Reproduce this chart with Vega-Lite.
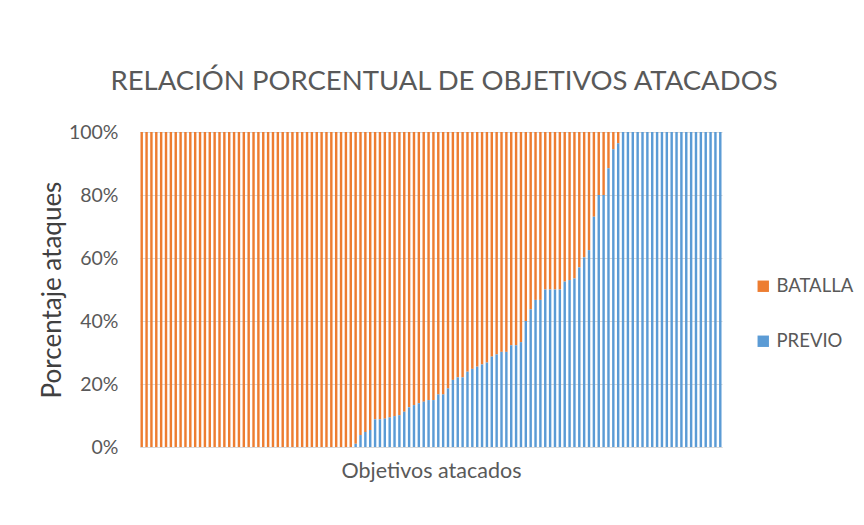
{
  "$schema": "https://vega.github.io/schema/vega-lite/v6.json",
  "autosize": {"type": "none"},
  "width": 582,
  "height": 315,
  "padding": {"left": 140, "top": 132, "right": 142, "bottom": 78},
  "background": "white",
  "title": {
    "text": "RELACIÓN PORCENTUAL DE OBJETIVOS ATACADOS",
    "font": "Lato",
    "fontSize": 27.5,
    "fontWeight": "normal",
    "color": "#595959",
    "anchor": "middle",
    "dx": 13,
    "offset": 27
  },
  "config": {
    "view": {"stroke": null},
    "font": "Lato"
  },
  "data": {
    "values": [
      {"o":1,"PREVIO":0,"BATALLA":100},{"o":2,"PREVIO":0,"BATALLA":100},{"o":3,"PREVIO":0,"BATALLA":100},{"o":4,"PREVIO":0,"BATALLA":100},
      {"o":5,"PREVIO":0,"BATALLA":100},{"o":6,"PREVIO":0,"BATALLA":100},{"o":7,"PREVIO":0,"BATALLA":100},{"o":8,"PREVIO":0,"BATALLA":100},
      {"o":9,"PREVIO":0,"BATALLA":100},{"o":10,"PREVIO":0,"BATALLA":100},{"o":11,"PREVIO":0,"BATALLA":100},{"o":12,"PREVIO":0,"BATALLA":100},
      {"o":13,"PREVIO":0,"BATALLA":100},{"o":14,"PREVIO":0,"BATALLA":100},{"o":15,"PREVIO":0,"BATALLA":100},{"o":16,"PREVIO":0,"BATALLA":100},
      {"o":17,"PREVIO":0,"BATALLA":100},{"o":18,"PREVIO":0,"BATALLA":100},{"o":19,"PREVIO":0,"BATALLA":100},{"o":20,"PREVIO":0,"BATALLA":100},
      {"o":21,"PREVIO":0,"BATALLA":100},{"o":22,"PREVIO":0,"BATALLA":100},{"o":23,"PREVIO":0,"BATALLA":100},{"o":24,"PREVIO":0,"BATALLA":100},
      {"o":25,"PREVIO":0,"BATALLA":100},{"o":26,"PREVIO":0,"BATALLA":100},{"o":27,"PREVIO":0,"BATALLA":100},{"o":28,"PREVIO":0,"BATALLA":100},
      {"o":29,"PREVIO":0,"BATALLA":100},{"o":30,"PREVIO":0,"BATALLA":100},{"o":31,"PREVIO":0,"BATALLA":100},{"o":32,"PREVIO":0,"BATALLA":100},
      {"o":33,"PREVIO":0,"BATALLA":100},{"o":34,"PREVIO":0,"BATALLA":100},{"o":35,"PREVIO":0,"BATALLA":100},{"o":36,"PREVIO":0,"BATALLA":100},
      {"o":37,"PREVIO":0,"BATALLA":100},{"o":38,"PREVIO":0,"BATALLA":100},{"o":39,"PREVIO":0,"BATALLA":100},{"o":40,"PREVIO":0,"BATALLA":100},
      {"o":41,"PREVIO":0,"BATALLA":100},{"o":42,"PREVIO":0,"BATALLA":100},{"o":43,"PREVIO":0,"BATALLA":100},{"o":44,"PREVIO":0,"BATALLA":100},
      {"o":45,"PREVIO":1,"BATALLA":99},{"o":46,"PREVIO":3.8,"BATALLA":96.2},{"o":47,"PREVIO":4.8,"BATALLA":95.2},{"o":48,"PREVIO":5.4,"BATALLA":94.6},
      {"o":49,"PREVIO":8.8,"BATALLA":91.2},{"o":50,"PREVIO":8.8,"BATALLA":91.2},{"o":51,"PREVIO":9,"BATALLA":91},{"o":52,"PREVIO":9.4,"BATALLA":90.6},
      {"o":53,"PREVIO":9.8,"BATALLA":90.2},{"o":54,"PREVIO":10.1,"BATALLA":89.9},{"o":55,"PREVIO":11.2,"BATALLA":88.8},{"o":56,"PREVIO":12.6,"BATALLA":87.4},
      {"o":57,"PREVIO":13.3,"BATALLA":86.7},{"o":58,"PREVIO":13.9,"BATALLA":86.1},{"o":59,"PREVIO":14.4,"BATALLA":85.6},{"o":60,"PREVIO":14.9,"BATALLA":85.1},
      {"o":61,"PREVIO":14.9,"BATALLA":85.1},{"o":62,"PREVIO":16.7,"BATALLA":83.3},{"o":63,"PREVIO":16.7,"BATALLA":83.3},{"o":64,"PREVIO":18.6,"BATALLA":81.4},
      {"o":65,"PREVIO":21.3,"BATALLA":78.7},{"o":66,"PREVIO":22.1,"BATALLA":77.9},{"o":67,"PREVIO":22.1,"BATALLA":77.9},{"o":68,"PREVIO":23.9,"BATALLA":76.1},
      {"o":69,"PREVIO":24.8,"BATALLA":75.2},{"o":70,"PREVIO":25.5,"BATALLA":74.5},{"o":71,"PREVIO":26.2,"BATALLA":73.8},{"o":72,"PREVIO":26.8,"BATALLA":73.2},
      {"o":73,"PREVIO":28.7,"BATALLA":71.3},{"o":74,"PREVIO":29.4,"BATALLA":70.6},{"o":75,"PREVIO":30.2,"BATALLA":69.8},{"o":76,"PREVIO":30.2,"BATALLA":69.8},
      {"o":77,"PREVIO":32.3,"BATALLA":67.7},{"o":78,"PREVIO":32.3,"BATALLA":67.7},{"o":79,"PREVIO":33.3,"BATALLA":66.7},{"o":80,"PREVIO":40,"BATALLA":60},
      {"o":81,"PREVIO":43.7,"BATALLA":56.3},{"o":82,"PREVIO":46.7,"BATALLA":53.3},{"o":83,"PREVIO":46.7,"BATALLA":53.3},{"o":84,"PREVIO":50,"BATALLA":50},
      {"o":85,"PREVIO":50,"BATALLA":50},{"o":86,"PREVIO":50,"BATALLA":50},{"o":87,"PREVIO":50,"BATALLA":50},{"o":88,"PREVIO":52.5,"BATALLA":47.5},
      {"o":89,"PREVIO":53,"BATALLA":47},{"o":90,"PREVIO":53.5,"BATALLA":46.5},{"o":91,"PREVIO":57,"BATALLA":43},{"o":92,"PREVIO":60.2,"BATALLA":39.8},
      {"o":93,"PREVIO":62.5,"BATALLA":37.5},{"o":94,"PREVIO":73.1,"BATALLA":26.9},{"o":95,"PREVIO":80,"BATALLA":20},{"o":96,"PREVIO":80,"BATALLA":20},
      {"o":97,"PREVIO":88.5,"BATALLA":11.5},{"o":98,"PREVIO":94.5,"BATALLA":5.5},{"o":99,"PREVIO":96.4,"BATALLA":3.6},{"o":100,"PREVIO":100,"BATALLA":0},
      {"o":101,"PREVIO":100,"BATALLA":0},{"o":102,"PREVIO":100,"BATALLA":0},{"o":103,"PREVIO":100,"BATALLA":0},{"o":104,"PREVIO":100,"BATALLA":0},
      {"o":105,"PREVIO":100,"BATALLA":0},{"o":106,"PREVIO":100,"BATALLA":0},{"o":107,"PREVIO":100,"BATALLA":0},{"o":108,"PREVIO":100,"BATALLA":0},
      {"o":109,"PREVIO":100,"BATALLA":0},{"o":110,"PREVIO":100,"BATALLA":0},{"o":111,"PREVIO":100,"BATALLA":0},{"o":112,"PREVIO":100,"BATALLA":0},
      {"o":113,"PREVIO":100,"BATALLA":0},{"o":114,"PREVIO":100,"BATALLA":0},{"o":115,"PREVIO":100,"BATALLA":0},{"o":116,"PREVIO":100,"BATALLA":0},
      {"o":117,"PREVIO":100,"BATALLA":0},{"o":118,"PREVIO":100,"BATALLA":0},{"o":119,"PREVIO":100,"BATALLA":0},{"o":120,"PREVIO":100,"BATALLA":0}
    ]
  },
  "transform": [
    {"fold": ["BATALLA", "PREVIO"], "as": ["serie", "valor"]}
  ],
  "mark": {"type": "bar"},
  "encoding": {
    "x": {
      "field": "o",
      "type": "ordinal",
      "scale": {"paddingInner": 0.5, "paddingOuter": 0.1},
      "axis": {
        "title": "Objetivos atacados",
        "labels": false,
        "ticks": false,
        "domain": true,
        "domainColor": "#d9d9d9",
        "domainWidth": 1,
        "titleFont": "Lato",
        "titleFontSize": 21.5,
        "titleFontWeight": "normal",
        "titleColor": "#595959",
        "titlePadding": 13
      }
    },
    "y": {
      "field": "valor",
      "type": "quantitative",
      "stack": "normalize",
      "scale": {"domain": [0, 1]},
      "axis": {
        "title": "Porcentaje ataques",
        "format": ".0%",
        "values": [0, 0.2, 0.4, 0.6, 0.8, 1],
        "domain": false,
        "ticks": false,
        "grid": true,
        "gridColor": "#d9d9d9",
        "labelFont": "Lato",
        "labelFontSize": 19.5,
        "labelColor": "#595959",
        "labelPadding": 22,
        "titleFont": "Lato",
        "titleFontSize": 26,
        "titleFontWeight": "normal",
        "titleColor": "#404040",
        "titlePadding": 3
      }
    },
    "color": {
      "field": "serie",
      "type": "nominal",
      "scale": {"domain": ["BATALLA", "PREVIO"], "range": ["#ED7D31", "#5B9BD5"]},
      "legend": {
        "title": null,
        "orient": "none",
        "legendX": 614,
        "legendY": 145,
        "symbolType": "square",
        "symbolSize": 130,
        "symbolStrokeWidth": 0,
        "labelFont": "Lato",
        "labelFontSize": 18.5,
        "labelColor": "#595959",
        "rowPadding": 36,
        "labelOffset": 4
      }
    },
    "order": {"field": "serie", "sort": "descending"}
  }
}
